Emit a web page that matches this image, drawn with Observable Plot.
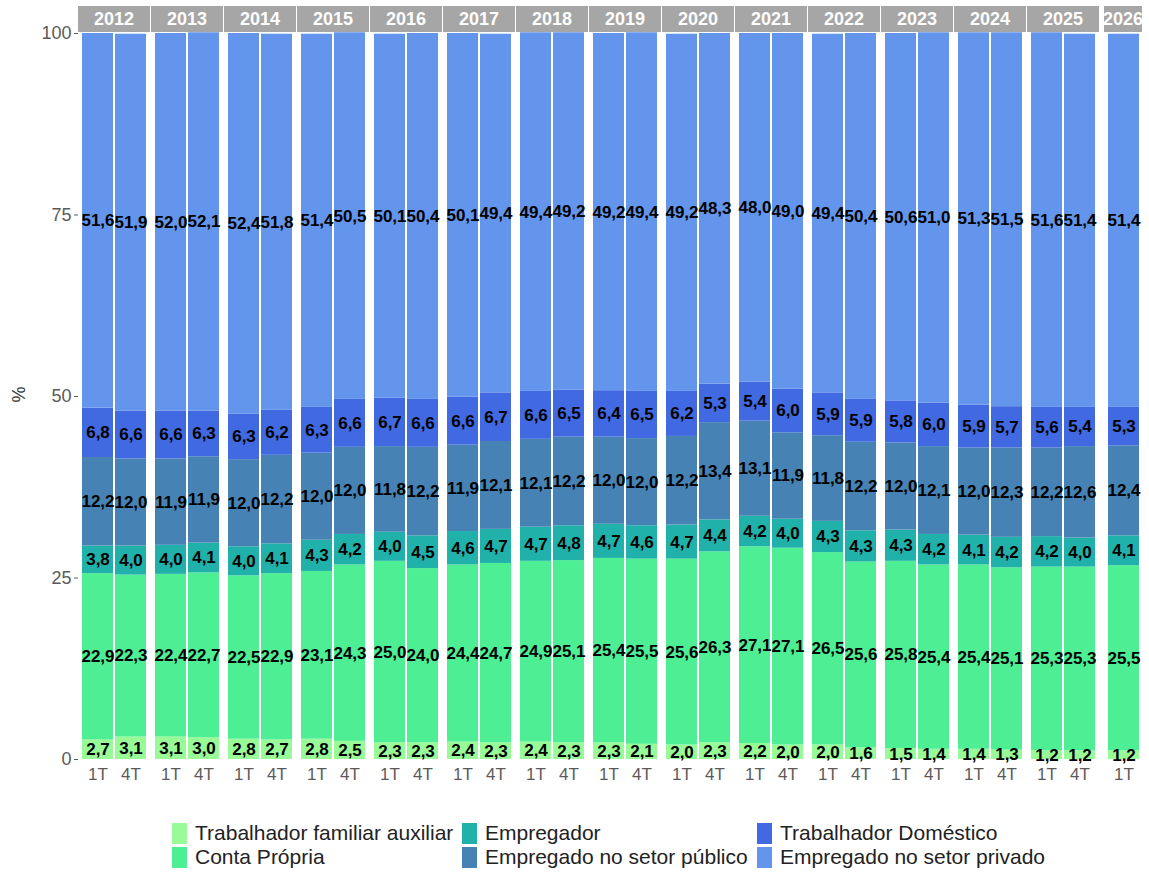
<!DOCTYPE html>
<html>
<head>
<meta charset="utf-8">
<script src="https://cdn.jsdelivr.net/npm/d3@7"></script>
<script src="https://cdn.jsdelivr.net/npm/@observablehq/plot@0.6"></script>
<style>
  body { margin: 0; background: #fff; font-family: "Liberation Sans", Arial, sans-serif; }
  #wrap { position: relative; width: 1149px; height: 872px; overflow: hidden; background: #fff; }
  #wrap svg { position: absolute; top: 0; overflow: visible; }
  .strip { position: absolute; top: 6px; height: 26px; background: #a6a6a6; color: #fff; font-weight: bold;
           font-size: 18px; display: flex; align-items: center; justify-content: center; overflow: hidden; white-space: nowrap; }
  .ylab { position: absolute; left: 11px; top: 384px; font-size: 18px; color: #333; transform: rotate(-90deg); transform-origin: center; }
  #wrap svg [aria-label^="x-axis"] text { font-size: 17px !important; fill: #5a5a5a; }
  #wrap svg [aria-label^="y-axis"] text { font-size: 18px !important; fill: #5a5a5a; }
  .legend { position: absolute; left: 172px; top: 821px; display: grid; grid-template-rows: 24px 24px;
            grid-auto-flow: column; grid-template-columns: 290px 295px auto; font-size: 21px; color: #222; }
  .legend .item { display: flex; align-items: center; white-space: nowrap; }
  .legend .key { width: 15px; height: 21px; margin-right: 8px; flex: none; }
</style>
</head>
<body>
<div id="wrap"></div>
<script>
// ---- Data ----
const periodYear = ["2012","2012","2013","2013","2014","2014","2015","2015","2016","2016","2017","2017","2018","2018",
  "2019","2019","2020","2020","2021","2021","2022","2022","2023","2023","2024","2024","2025","2025","2026"];
const periodQuarter = ["1T","4T","1T","4T","1T","4T","1T","4T","1T","4T","1T","4T","1T","4T",
  "1T","4T","1T","4T","1T","4T","1T","4T","1T","4T","1T","4T","1T","4T","1T"];

const trabalhadorFamiliar = [2.7,3.1,3.1,3.0,2.8,2.7,2.8,2.5,2.3,2.3,2.4,2.3,2.4,2.3,2.3,2.1,2.0,2.3,2.2,2.0,2.0,1.6,1.5,1.4,1.4,1.3,1.2,1.2,1.2];
const contaPropria = [22.9,22.3,22.4,22.7,22.5,22.9,23.1,24.3,25.0,24.0,24.4,24.7,24.9,25.1,25.4,25.5,25.6,26.3,27.1,27.1,26.5,25.6,25.8,25.4,25.4,25.1,25.3,25.3,25.5];
const empregador = [3.8,4.0,4.0,4.1,4.0,4.1,4.3,4.2,4.0,4.5,4.6,4.7,4.7,4.8,4.7,4.6,4.7,4.4,4.2,4.0,4.3,4.3,4.3,4.2,4.1,4.2,4.2,4.0,4.1];
const setorPublico = [12.2,12.0,11.9,11.9,12.0,12.2,12.0,12.0,11.8,12.2,11.9,12.1,12.1,12.2,12.0,12.0,12.2,13.4,13.1,11.9,11.8,12.2,12.0,12.1,12.0,12.3,12.2,12.6,12.4];
const trabalhadorDomestico = [6.8,6.6,6.6,6.3,6.3,6.2,6.3,6.6,6.7,6.6,6.6,6.7,6.6,6.5,6.4,6.5,6.2,5.3,5.4,6.0,5.9,5.9,5.8,6.0,5.9,5.7,5.6,5.4,5.3];
const setorPrivado = [51.6,51.9,52.0,52.1,52.4,51.8,51.4,50.5,50.1,50.4,50.1,49.4,49.4,49.2,49.2,49.4,49.2,48.3,48.0,49.0,49.4,50.4,50.6,51.0,51.3,51.5,51.6,51.4,51.4];

const categories = ["Trabalhador familiar auxiliar","Conta Própria","Empregador",
  "Empregado no setor público","Trabalhador Doméstico","Empregado no setor privado"];
const categoryColors = ["#98FB98","#4EEE94","#20B2AA","#4682B4","#4169E1","#6495ED"];
const yTicks = [0, 25, 50, 75, 100];

// ---- Build table ----
const seriesList = [trabalhadorFamiliar, contaPropria, empregador, setorPublico, trabalhadorDomestico, setorPrivado];
const rows = [];
periodYear.forEach((yr, i) => {
  seriesList.forEach((vals, k) => rows.push({year: yr, quarter: periodQuarter[i], category: categories[k], value: vals[i]}));
});
const fmt = v => d3.format(".1f")(v).replace(".", ",");

const wrap = document.getElementById("wrap");
const H = 795, MT = 33, MB = 36;
const mainYears = [...new Set(periodYear)].filter(y => y !== "2026");
const lastYears = ["2026"];

function marks(data) {
  return [
    Plot.barY(data, {fx: "year", x: "quarter", y: "value", fill: "category"}),
    Plot.text(data, Plot.stackY({fx: "year", x: "quarter", y: "value", z: "category",
      text: d => fmt(d.value), fill: "#000", fontWeight: "bold", fontSize: 17}))
  ];
}

const style = {fontFamily: '"Liberation Sans", Arial, sans-serif', fontSize: "16px", color: "#5a5a5a", background: "transparent"};

const plot1 = Plot.plot({
  width: 1104, height: H, marginLeft: 73, marginRight: 0, marginTop: MT, marginBottom: MB,
  style,
  fx: {domain: mainYears, padding: 0, axis: null},
  x: {domain: ["1T","4T"], paddingInner: 0.06, paddingOuter: 0.13, tickSize: 0, tickPadding: 8, label: null},
  y: {domain: [0, 100], ticks: yTicks, tickSize: 4, tickPadding: 3, label: null},
  color: {domain: categories, range: categoryColors},
  marks: marks(rows.filter(d => d.year !== "2026"))
});
plot1.style.left = "0px";
wrap.appendChild(plot1);

const plot2 = Plot.plot({
  width: 39, height: H, marginLeft: 0, marginRight: 0, marginTop: MT, marginBottom: MB,
  style,
  fx: {domain: lastYears, padding: 0, axis: null},
  x: {domain: ["1T"], paddingInner: 0, paddingOuter: 0.12, tickSize: 0, tickPadding: 8, label: null},
  y: {domain: [0, 100], axis: null},
  color: {domain: categories, range: categoryColors},
  marks: marks(rows.filter(d => d.year === "2026"))
});
plot2.style.left = "1104px";
wrap.appendChild(plot2);

// facet strips, positioned with the library's fx scales
function strips(plot, years, offset, fallbackRange) {
  let fx = plot.scale("fx");
  let apply, bw;
  if (fx && fx.apply) { apply = fx.apply; bw = fx.bandwidth; }
  else {
    const s = d3.scaleBand().domain(years).range(fallbackRange).padding(0);
    apply = s; bw = s.bandwidth();
  }
  years.forEach(y => {
    const d = document.createElement("div");
    d.className = "strip";
    d.style.left = (offset + apply(y)) + "px";
    d.style.width = (bw - 1) + "px";
    d.textContent = y;
    wrap.appendChild(d);
  });
}
strips(plot1, mainYears, 0, [73, 1104]);
strips(plot2, lastYears, 1104, [0, 39]);

// y label
const yl = document.createElement("div");
yl.className = "ylab";
yl.textContent = "%";
wrap.appendChild(yl);

// legend
const lg = document.createElement("div");
lg.className = "legend";
categories.forEach((c, i) => {
  const it = document.createElement("div");
  it.className = "item";
  const k = document.createElement("span");
  k.className = "key";
  k.style.background = categoryColors[i];
  const t = document.createElement("span");
  t.textContent = c;
  it.appendChild(k); it.appendChild(t);
  lg.appendChild(it);
});
wrap.appendChild(lg);
</script>
</body>
</html>
